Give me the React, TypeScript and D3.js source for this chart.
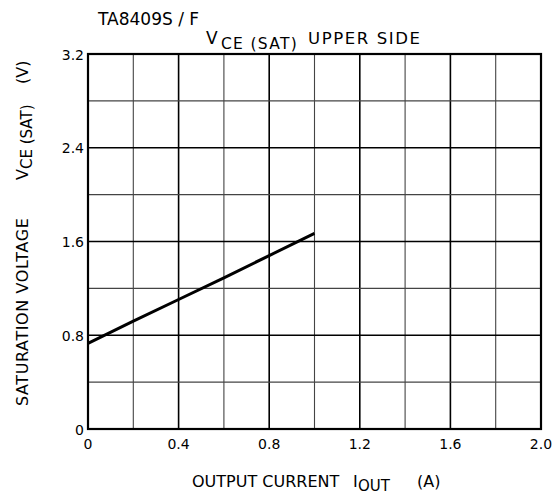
import { useEffect, useRef } from "react";
import * as d3 from "d3";

// curve
const currentA = [0, 0.2, 0.4, 0.6, 0.8, 1.0];
const vceSat = [0.73, 0.92, 1.105, 1.29, 1.48, 1.67];

const xTicks = [0, 0.4, 0.8, 1.2, 1.6, 2.0];
const yTicks = [0, 0.8, 1.6, 2.4, 3.2];
const xGrid = d3.range(0, 2.0001, 0.2);
const yGrid = d3.range(0, 3.2001, 0.4);

const FONT = "'DejaVu Sans', 'Open Sans', sans-serif";

export default function App() {
    const ref = useRef<SVGSVGElement | null>(null);

    useEffect(() => {
        const width = 554, height = 495;
        const m = { top: 54, right: 13, bottom: 66, left: 88 };
        const w = width - m.left - m.right;
        const h = height - m.top - m.bottom;

        const x = d3.scaleLinear().domain([0, 2]).range([0, w]);
        const y = d3.scaleLinear().domain([0, 3.2]).range([h, 0]);

        const svg = d3.select(ref.current!).attr("width", width).attr("height", height);
        svg.selectAll("*").remove();
        svg.append("rect").attr("width", width).attr("height", height).attr("fill", "#fff");

        const g = svg.append("g").attr("transform", `translate(${m.left},${m.top})`);

        // grid - labelled lines a bit heavier
        const isMajorX = (v: number) => xTicks.some((t) => Math.abs(t - v) < 1e-6);
        const isMajorY = (v: number) => yTicks.some((t) => Math.abs(t - v) < 1e-6);
        g.selectAll("line.vx")
            .data(xGrid)
            .enter()
            .append("line")
            .attr("x1", (d) => x(d)).attr("x2", (d) => x(d))
            .attr("y1", 0).attr("y2", h)
            .attr("stroke", (d) => (isMajorX(d) ? "#000" : "#444"))
            .attr("stroke-width", (d) => (isMajorX(d) ? 1.6 : 1.1));
        g.selectAll("line.hy")
            .data(yGrid)
            .enter()
            .append("line")
            .attr("y1", (d) => y(d)).attr("y2", (d) => y(d))
            .attr("x1", 0).attr("x2", w)
            .attr("stroke", (d) => (isMajorY(d) ? "#000" : "#444"))
            .attr("stroke-width", (d) => (isMajorY(d) ? 1.6 : 1.1));

        g.append("rect")
            .attr("width", w).attr("height", h)
            .attr("fill", "none").attr("stroke", "#000").attr("stroke-width", 2.2);

        // tick labels
        g.selectAll("text.xt")
            .data(xTicks)
            .enter()
            .append("text")
            .attr("x", (d) => x(d))
            .attr("y", h + 20)
            .attr("text-anchor", "middle")
            .style("font-family", FONT).style("font-size", "14px")
            .text((d) => (d === 0 ? "0" : d.toFixed(1)));
        g.selectAll("text.yt")
            .data(yTicks)
            .enter()
            .append("text")
            .attr("x", -4)
            .attr("y", (d) => y(d) + 5.5)
            .attr("text-anchor", "end")
            .style("font-family", FONT).style("font-size", "14px")
            .text((d) => (d === 0 ? "0" : d.toFixed(1)));

        // curve
        const line = d3.line<number>()
            .x((_, i) => x(currentA[i]))
            .y((d) => y(d));
        g.append("path")
            .attr("d", line(vceSat)!)
            .attr("fill", "none")
            .attr("stroke", "#000")
            .attr("stroke-width", 3);

        // titles
        svg.append("text")
            .attr("x", 98).attr("y", 25)
            .style("font-family", FONT).style("font-size", "17px")
            .text("TA8409S / F");
        svg.append("text")
            .attr("x", 206).attr("y", 44)
            .style("font-family", FONT).style("font-size", "17px")
            .text("V");
        svg.append("text")
            .attr("x", 221).attr("y", 49)
            .style("font-family", FONT).style("font-size", "15.5px")
            .style("letter-spacing", "1.3px")
            .text("CE (SAT)");
        svg.append("text")
            .attr("x", 308).attr("y", 44)
            .style("font-family", FONT).style("font-size", "16.5px")
            .style("letter-spacing", "1.6px")
            .text("UPPER SIDE");

        const xl = svg.append("text")
            .attr("y", 487)
            .style("font-family", FONT).style("font-size", "16px");
        xl.append("tspan").attr("x", 192).text("OUTPUT CURRENT");
        xl.append("tspan").attr("x", 353).text("I");
        xl.append("tspan").attr("x", 358).attr("dy", 4).style("font-size", "15px").text("OUT");
        xl.append("tspan").attr("x", 417).attr("dy", -4).text("(A)");

        const yl = svg.append("text")
            .attr("transform", "translate(28,406) rotate(-90)")
            .style("font-family", FONT).style("font-size", "16px");
        yl.append("tspan").attr("x", 0).style("letter-spacing", "0.6px").text("SATURATION VOLTAGE");
        yl.append("tspan").attr("x", 226).text("V");
        yl.append("tspan").attr("x", 237).attr("dy", 4).style("font-size", "15px").text("CE (SAT)");
        yl.append("tspan").attr("x", 322).attr("dy", -4).text("(V)");
    }, []);

    return (
        <svg
            ref={ref}
            style={{ position: "absolute", left: 0, top: 0, display: "block" }}
        />
    );
}
